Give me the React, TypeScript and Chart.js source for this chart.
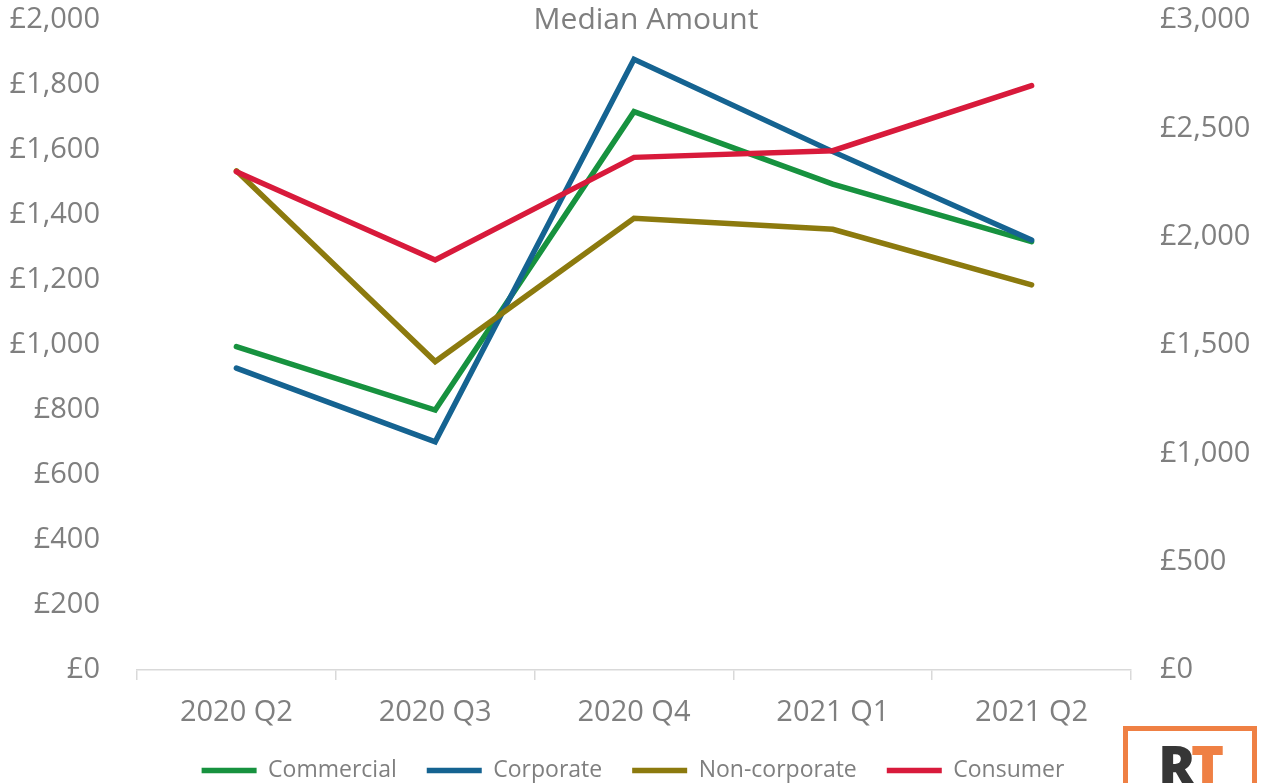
import React, { useEffect, useRef } from 'react';
import { Chart, registerables } from 'chart.js';

Chart.register(...registerables);

// ---- Data ----
const categories = ['2020 Q2', '2020 Q3', '2020 Q4', '2021 Q1', '2021 Q2'];
const commercial = [995, 800, 1718, 1495, 1318];
const corporate = [929, 702, 1879, 1595, 1323];
const nonCorporate = [1536, 949, 1390, 1356, 1185];
const consumer = [2300, 1892, 2366, 2397, 2697]; // right axis

const leftMax = 2000;
const leftStep = 200;
const rightMax = 3000;
const rightStep = 500;

const TITLE = 'Median Amount';

const GRAY = '#7f7f7f';
const FONT = '"Open Sans", sans-serif';

const fmt = (v: number) => '£' + Number(v).toLocaleString('en-GB');

const titlePlugin = {
  id: 'overlayTitle',
  afterDraw(chart: any) {
    const ctx = chart.ctx;
    ctx.save();
    ctx.font = '30px "Open Sans"';
    ctx.fillStyle = GRAY;
    ctx.textAlign = 'center';
    ctx.textBaseline = 'alphabetic';
    ctx.fillText(TITLE, 646, 28.5);
    ctx.restore();
  },
};

export default function App() {
  const ref = useRef<HTMLCanvasElement | null>(null);

  useEffect(() => {
    if (!ref.current) return;
    const mk = (label: string, data: number[], color: string, order: number, axis: string) => ({
      label,
      data,
      borderColor: color,
      backgroundColor: color,
      borderWidth: 5.5,
      pointRadius: 0,
      pointHoverRadius: 0,
      tension: 0,
      fill: false,
      borderCapStyle: 'round',
      borderJoinStyle: 'miter',
      order,
      yAxisID: axis,
    });
    const vFit = (w: number) => (s: any) => {
      s.width = w;
      s.paddingTop = 0;
      s.paddingBottom = 0;
    };
    const chart = new Chart(ref.current, {
      type: 'line',
      data: {
        labels: categories,
        datasets: [
          mk('Commercial', commercial, '#17923f', 3, 'y'),
          mk('Corporate', corporate, '#156391', 2, 'y'),
          mk('Non-corporate', nonCorporate, '#8c7a0e', 1, 'y'),
          mk('Consumer', consumer, '#d81a3b', 0, 'y1'),
        ] as any,
      },
      options: {
        animation: false,
        responsive: true,
        maintainAspectRatio: false,
        layout: { padding: { top: 20, left: 0, right: 0, bottom: 0 } },
        plugins: {
          tooltip: { enabled: false },
          title: { display: false },
          legend: {
            display: true,
            position: 'bottom',
            labels: {
              usePointStyle: true,
              pointStyle: 'line',
              pointStyleWidth: 55,
              padding: 30,
              color: GRAY,
              font: { family: FONT, size: 23 },
              sort: (a: any, b: any) => a.datasetIndex - b.datasetIndex,
            },
          },
        },
        scales: {
          x: {
            type: 'category',
            offset: true,
            grid: {
              display: true,
              drawOnChartArea: false,
              drawTicks: true,
              tickLength: 10,
              offset: true,
              color: '#d9d9d9',
              lineWidth: 1.5,
            },
            border: { display: true, color: '#d9d9d9', width: 1.5 },
            ticks: {
              color: GRAY,
              font: { family: FONT, size: 29 },
              padding: 15,
              maxRotation: 0,
              autoSkip: false,
            },
            afterFit: (s: any) => {
              s.height = 59;
              s.paddingLeft = 0;
              s.paddingRight = 0;
            },
          },
          y: {
            position: 'left',
            min: 0,
            max: leftMax,
            grid: { display: false, drawTicks: false },
            border: { display: false },
            ticks: {
              stepSize: leftStep,
              color: GRAY,
              font: { family: FONT, size: 29 },
              padding: 37,
              callback: (v: any) => fmt(v),
            },
            afterFit: vFit(137),
          },
          y1: {
            position: 'right',
            min: 0,
            max: rightMax,
            grid: { display: false, drawTicks: false },
            border: { display: false },
            ticks: {
              stepSize: rightStep,
              color: GRAY,
              font: { family: FONT, size: 29 },
              padding: 29,
              callback: (v: any) => fmt(v),
            },
            afterFit: vFit(135),
          },
        },
      } as any,
      plugins: [titlePlugin],
    });
    return () => chart.destroy();
  }, []);

  return (
    <div
      style={{
        position: 'fixed',
        left: 0,
        top: 0,
        width: 1266,
        height: 783,
        overflow: 'hidden',
        background: '#ffffff',
      }}
    >
      <div style={{ position: 'absolute', left: 0, top: 0, width: 1266, height: 792 }}>
        <canvas ref={ref} />
      </div>
      <div
        style={{
          position: 'absolute',
          left: 1123,
          top: 726,
          width: 124,
          height: 120,
          border: '5px solid #ef8044',
          background: '#ffffff',
        }}
      />
      <div
        style={{
          position: 'absolute',
          left: 1158,
          top: 737,
          fontFamily: FONT,
          fontWeight: 800,
          fontSize: 56,
          lineHeight: 1,
          letterSpacing: -5,
          whiteSpace: 'nowrap',
        }}
      >
        <span style={{ color: '#363636' }}>R</span>
        <span style={{ color: '#ef8044' }}>T</span>
      </div>
    </div>
  );
}
